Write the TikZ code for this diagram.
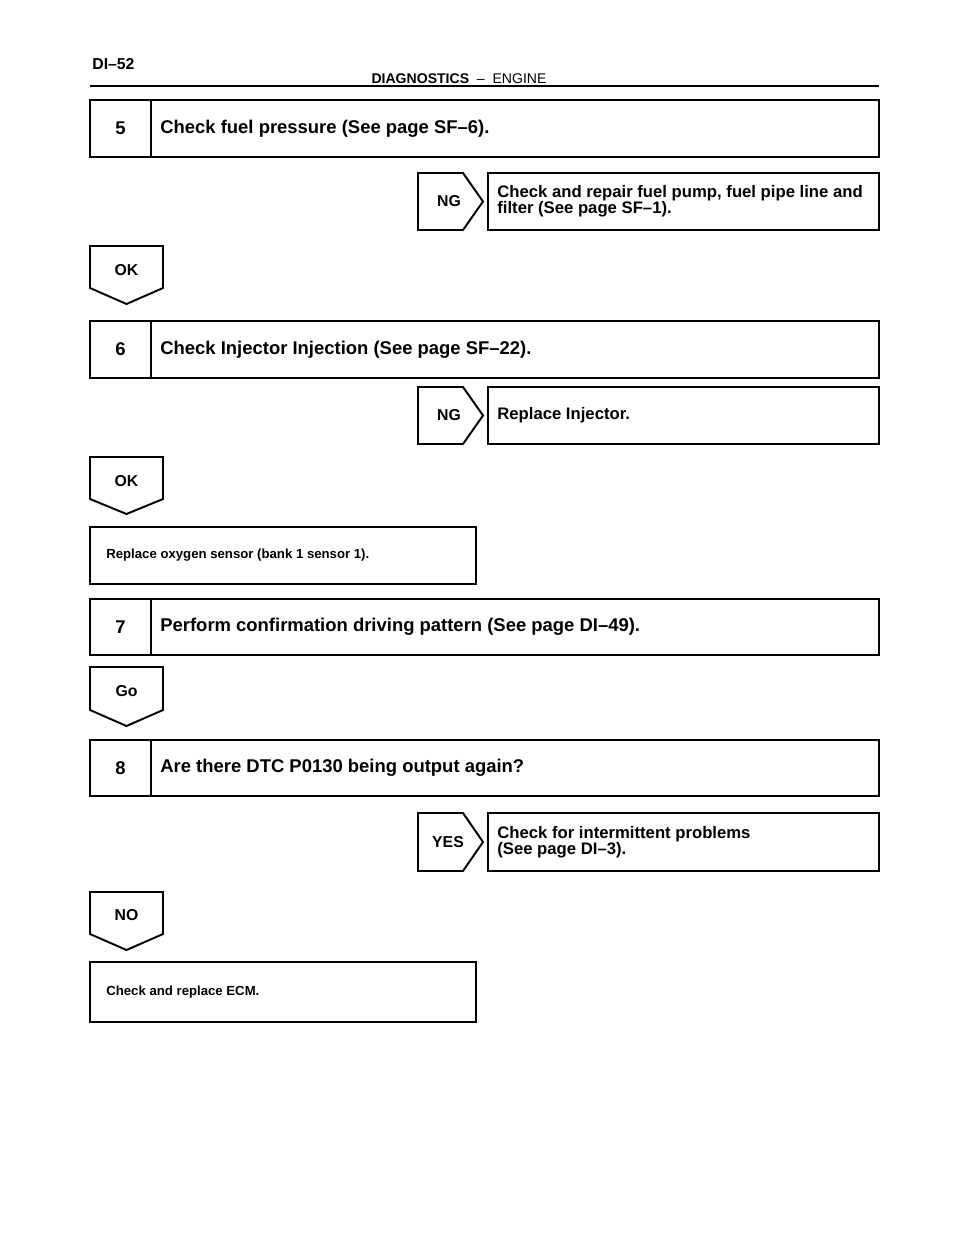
\documentclass[tikz,border=0pt]{standalone}
\usepackage{fontspec}
\setmainfont{Liberation Sans}
\usetikzlibrary{positioning}
\tikzset{
  frame/.style={line width=1.1pt,line join=miter},
  rule/.style={line width=1.3pt},
  stepno/.style={font=\fontsize{10.5}{10}\selectfont\bfseries,inner sep=0pt},
  steptxt/.style={font=\fontsize{10.5}{10}\selectfont\bfseries,anchor=west,inner sep=0pt},
  tagtxt/.style={font=\fontsize{9}{9}\selectfont\bfseries,inner sep=0pt},
  restxt/.style={font=\fontsize{9.5}{9}\selectfont\bfseries,anchor=west,align=left,inner sep=0pt},
  acttxt/.style={font=\fontsize{7.5}{8}\selectfont\bfseries,anchor=west,inner sep=0pt},
}

\begin{document}
\begin{tikzpicture}[x=0.02cm,y=-0.02cm]
  \useasboundingbox (0,0) rectangle (960,1250);
  % page header
  \node[font=\fontsize{9}{9}\selectfont\bfseries,anchor=west,inner sep=0pt] (pg) at (92,64) {DI–52};
  \node[font=\fontsize{8}{8}\selectfont,inner sep=0pt] (hd) at (459,79) {\textbf{DIAGNOSTICS}\ \ –\ \ ENGINE};
  \draw[rule] (90,86) -- (879,86);
  % step 5: fuel pressure
  \draw[frame] (90,100) rectangle (879,157);
  \draw[frame] (151,100) -- (151,157);
  \node[stepno] (n5) at (120.5,128.5) {5};
  \node[steptxt] (s5) at (160,128.5) {Check fuel pressure (See page SF–6).};
  \draw[frame] (418,173) -- (463,173) -- (483,201.5) -- (463,230) -- (418,230) -- cycle;
  \node[tagtxt] (ng5) at (449,201.5) {NG};
  \draw[frame] (488,173) rectangle (879,230);
  \node[restxt] (r5) at (497,201.5) {Check and repair fuel pump, fuel pipe line and\\filter (See page SF–1).};
  \draw[frame] (90,246) -- (163,246) -- (163,288) -- (126.5,304) -- (90,288) -- cycle;
  \node[tagtxt] (ok5) at (126.5,270) {OK};
  % step 6: injector injection
  \draw[frame] (90,321) rectangle (879,378);
  \draw[frame] (151,321) -- (151,378);
  \node[stepno] (n6) at (120.5,349.5) {6};
  \node[steptxt] (s6) at (160,349.5) {Check Injector Injection (See page SF–22).};
  \draw[frame] (418,387) -- (463,387) -- (483,415.5) -- (463,444) -- (418,444) -- cycle;
  \node[tagtxt] (ng6) at (449,415.5) {NG};
  \draw[frame] (488,387) rectangle (879,444);
  \node[restxt] (r6) at (497,415.5) {Replace Injector.};
  \draw[frame] (90,457) -- (163,457) -- (163,499) -- (126.5,514) -- (90,499) -- cycle;
  \node[tagtxt] (ok6) at (126.5,481) {OK};
  \draw[frame] (90,527) rectangle (476,584);
  \node[acttxt] (a6) at (106,555.5) {Replace oxygen sensor (bank 1 sensor 1).};
  % step 7: confirmation drive
  \draw[frame] (90,599) rectangle (879,655);
  \draw[frame] (151,599) -- (151,655);
  \node[stepno] (n7) at (120.5,627) {7};
  \node[steptxt] (s7) at (160,627) {Perform confirmation driving pattern (See page DI–49).};
  \draw[frame] (90,667) -- (163,667) -- (163,710) -- (126.5,726) -- (90,710) -- cycle;
  \node[tagtxt] (go7) at (126.5,691) {Go};
  % step 8: DTC again?
  \draw[frame] (90,740) rectangle (879,796);
  \draw[frame] (151,740) -- (151,796);
  \node[stepno] (n8) at (120.5,768) {8};
  \node[steptxt] (s8) at (160,768) {Are there DTC P0130 being output again?};
  \draw[frame] (418,813) -- (463,813) -- (483,842) -- (463,871) -- (418,871) -- cycle;
  \node[tagtxt] (yes8) at (448,842) {YES};
  \draw[frame] (488,813) rectangle (879,871);
  \node[restxt] (r8) at (497,842) {Check for intermittent problems\\(See page DI–3).};
  \draw[frame] (90,892) -- (163,892) -- (163,934) -- (126.5,950) -- (90,934) -- cycle;
  \node[tagtxt] (no8) at (126.5,915) {NO};
  \draw[frame] (90,962) rectangle (476,1022);
  \node[acttxt] (a8) at (106,992) {Check and replace ECM.};
\end{tikzpicture}
\end{document}
